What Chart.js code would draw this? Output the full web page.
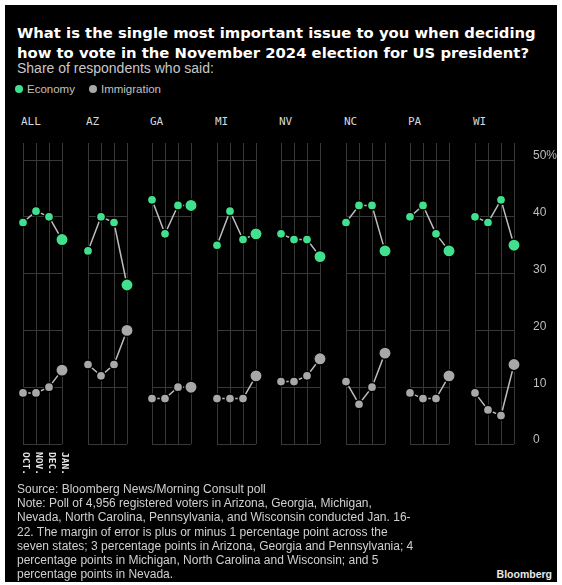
<!DOCTYPE html>
<html>
<head>
<meta charset="utf-8">
<script src="https://cdn.jsdelivr.net/npm/chart.js@4/dist/chart.umd.min.js"></script>
<style>
  html, body { margin: 0; padding: 0; background: #fff; }
  body { width: 562px; height: 585px; position: relative; overflow: hidden; }
  #frame { position: absolute; left: 5px; top: 5px; width: 552px; height: 577px; background: #000; }
  .abs { position: absolute; white-space: nowrap; }
  #title { left: 17px; top: 23px; font: bold 14.8px 'DejaVu Sans', sans-serif; color: #fff; line-height: 19.5px; }
  #sub { left: 17px; top: 60px; font: 14px 'Liberation Sans', sans-serif; color: #c8c8c8; }
  #legend { left: 15px; top: 83px; font: 11.5px 'Liberation Sans', sans-serif; color: #c0c0c0; display: flex; align-items: center; }
  #legend .dot { display: inline-block; width: 8px; height: 8px; border-radius: 50%; margin-right: 4px; }
  #legend .item { display: flex; align-items: center; margin-right: 14px; }
  .state { font: 11px 'DejaVu Sans Mono', monospace; color: #d8d8d8; top: 115px; }
  .panel { position: absolute; top: 130px; }
  #foot { left: 17px; top: 482px; font: 12px 'Liberation Sans', sans-serif; color: #d0d0d0; line-height: 14.2px; }
  #brand { right: 10px; top: 568px; font: bold 10.5px 'Liberation Sans', sans-serif; color: #e8e8e8; }
</style>
</head>
<body>
<div id="frame"></div>
<div id="title" class="abs">What is the single most important issue to you when deciding<br>how to vote in the November 2024 election for US president?</div>
<div id="sub" class="abs">Share of respondents who said:</div>
<div id="legend" class="abs"></div>
<div id="panels"></div>
<div id="foot" class="abs">Source: Bloomberg News/Morning Consult poll<br>Note: Poll of 4,956 registered voters in Arizona, Georgia, Michigan,<br>Nevada, North Carolina, Pennsylvania, and Wisconsin conducted Jan. 16-<br>22. The margin of error is plus or minus 1 percentage point across the<br>seven states; 3 percentage points in Arizona, Georgia and Pennsylvania; 4<br>percentage points in Michigan, North Carolina and Wisconsin; and 5<br>percentage points in Nevada.</div>
<div id="brand" class="abs">Bloomberg</div>

<script>
// Poll waves and regions
const months = ['OCT.', 'NOV.', 'DEC.', 'JAN.'];
const states = ['ALL', 'AZ', 'GA', 'MI', 'NV', 'NC', 'PA', 'WI'];

// Share of respondents (%) naming each issue, one row per region, Oct -> Jan
const economyShare = [
  [39, 41, 40, 36],  // ALL
  [34, 40, 39, 28],  // AZ
  [43, 37, 42, 42],  // GA
  [35, 41, 36, 37],  // MI
  [37, 36, 36, 33],  // NV
  [39, 42, 42, 34],  // NC
  [40, 42, 37, 34],  // PA
  [40, 39, 43, 35]   // WI
];
const immigrationShare = [
  [9, 9, 10, 13],    // ALL
  [14, 12, 14, 20],  // AZ
  [8, 8, 10, 10],    // GA
  [8, 8, 8, 12],     // MI
  [11, 11, 12, 15],  // NV
  [11, 7, 10, 16],   // NC
  [9, 8, 8, 12],     // PA
  [9, 6, 5, 14]      // WI
];
const yTicks = [0, 10, 20, 30, 40, 50];

const series = [
  { name: 'Economy', values: economyShare, color: '#41e08f' },
  { name: 'Immigration', values: immigrationShare, color: '#a8a8a8' }
];

// Legend
const legend = document.getElementById('legend');
series.forEach(s => {
  const item = document.createElement('span');
  item.className = 'item';
  item.innerHTML = `<span class="dot" style="background:${s.color}"></span>${s.name}`;
  legend.appendChild(item);
});

const GRID = '#383838';
const LINE = '#bdbdbd';

// Rotated month names under the first panel
const monthLabels = {
  id: 'monthLabels',
  afterDraw(chart, args, opts) {
    if (!opts.show) return;
    const { ctx, chartArea, scales: { x } } = chart;
    ctx.save();
    ctx.font = 'bold 9.5px "DejaVu Sans Mono", monospace';
    ctx.fillStyle = '#e6e6e6';
    ctx.textAlign = 'left';
    ctx.textBaseline = 'alphabetic';
    x.ticks.forEach((t, i) => {
      const px = x.getPixelForTick(i);
      ctx.save();
      ctx.translate(px, chartArea.bottom + 8);
      ctx.rotate(Math.PI / 2);
      ctx.fillText(x.getLabelForValue(t.value), 0, 0);
      ctx.restore();
    });
    ctx.restore();
  }
};

const panelsEl = document.getElementById('panels');
const PANEL_W = 39, PAD = 12, STEP = 64.57, FIRST = 23;

states.forEach((st, i) => {
  const isLast = i === states.length - 1;
  const areaLeft = Math.round(FIRST + STEP * i);

  const lbl = document.createElement('div');
  lbl.className = 'abs state';
  lbl.style.left = (areaLeft - 2) + 'px';
  lbl.textContent = st;
  panelsEl.appendChild(lbl);

  const axisW = isLast ? 50 : 0;
  const padR = isLast ? 5 : PAD;
  const w = PAD + PANEL_W + axisW + padR;
  const h = 360;
  const wrap = document.createElement('div');
  wrap.className = 'panel';
  wrap.style.left = (areaLeft - PAD) + 'px';
  wrap.style.width = w + 'px';
  wrap.style.height = h + 'px';
  const cv = document.createElement('canvas');
  cv.width = w; cv.height = h;
  wrap.appendChild(cv);
  panelsEl.appendChild(wrap);

  const ds = (s) => ({
    label: s.name,
    data: s.values[i],
    borderColor: LINE,
    borderWidth: 1.5,
    pointBackgroundColor: s.color,
    pointBorderColor: '#000',
    pointBorderWidth: 1.5,
    pointRadius: months.map((m, k) => k === months.length - 1 ? 6.2 : 4.6),
    pointHoverRadius: 0,
    clip: false,
    tension: 0
  });

  new Chart(cv, {
    type: 'line',
    data: { labels: months, datasets: series.map(ds) },
    plugins: [monthLabels],
    options: {
      responsive: false,
      animation: false,
      devicePixelRatio: 1,
      events: [],
      layout: { padding: { left: PAD, right: padR, top: 13, bottom: 46 } },
      plugins: {
        legend: { display: false },
        tooltip: { enabled: false },
        title: { display: false },
        monthLabels: { show: i === 0 }
      },
      scales: {
        x: {
          type: 'category',
          offset: false,
          border: { display: false },
          grid: { color: GRID, lineWidth: 1, drawTicks: false },
          ticks: { display: false }
        },
        y: {
          position: isLast ? 'right' : 'left',
          min: 0,
          max: 53,
          border: { display: false },
          grid: { color: GRID, lineWidth: 1, drawTicks: false },
          afterBuildTicks: (scale) => { scale.ticks = yTicks.map(v => ({ value: v })); },
          afterFit: (scale) => {
            // keep every panel's plot area identical, tick labels or not
            scale.width = axisW;
            scale.paddingTop = 0;
            scale.paddingBottom = 0;
          },
          ticks: {
            display: isLast,
            padding: 19,
            labelOffset: -4,
            color: '#bdbdbd',
            font: { family: 'Liberation Sans', size: 12 },
            callback: (v) => v === 50 ? '50%' : String(v)
          }
        }
      }
    }
  });
});
</script>
</body>
</html>
